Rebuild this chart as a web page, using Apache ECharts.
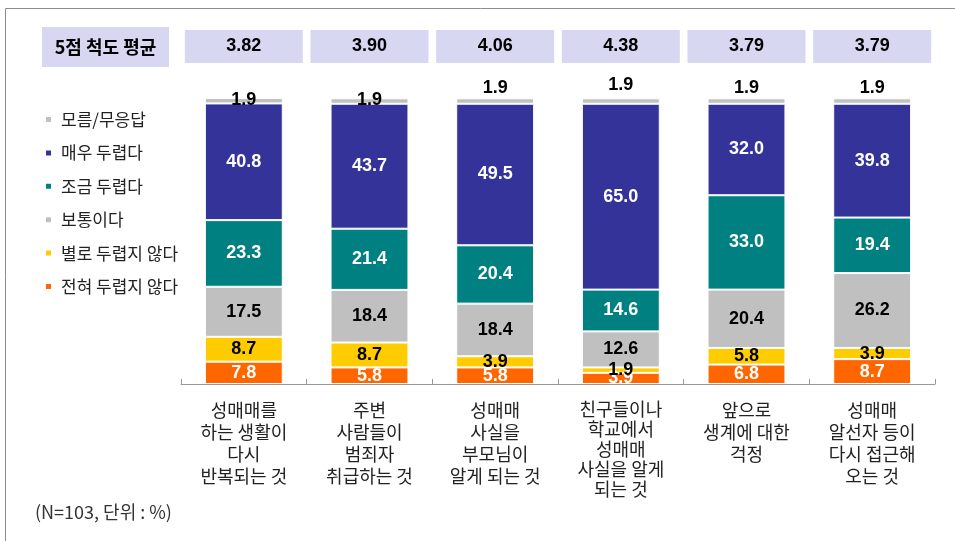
<!DOCTYPE html>
<html>
<head>
<meta charset="utf-8">
<script src="https://cdn.jsdelivr.net/npm/echarts@6/dist/echarts.min.js"></script>
<style>
  html, body { margin: 0; padding: 0; background: #fff; }
  #chart { width: 955px; height: 541px; }
</style>
</head>
<body>
<div id="chart"></div>
<script>
// Categories (x axis, multi-line)
const categories = [
  '성매매를\n하는 생활이\n다시\n반복되는 것',
  '주변\n사람들이\n범죄자\n취급하는 것',
  '성매매\n사실을\n부모님이\n알게 되는 것',
  '친구들이나\n학교에서\n성매매\n사실을 알게\n되는 것',
  '앞으로\n생계에 대한\n걱정',
  '성매매\n알선자 등이\n다시 접근해\n오는 것'
];

// 5-point scale means shown above each bar
const scaleMeans = ['3.82', '3.90', '4.06', '4.38', '3.79', '3.79'];

// Response shares (%), stacked bottom to top
const notAtAll   = [7.8, 5.8, 5.8, 3.9, 6.8, 8.7];      // 전혀 두렵지 않다
const notVery    = [8.7, 8.7, 3.9, 1.9, 5.8, 3.9];      // 별로 두렵지 않다
const neutral    = [17.5, 18.4, 18.4, 12.6, 20.4, 26.2]; // 보통이다
const somewhat   = [23.3, 21.4, 20.4, 14.6, 33.0, 19.4]; // 조금 두렵다
const very       = [40.8, 43.7, 49.5, 65.0, 32.0, 39.8]; // 매우 두렵다
const dontKnow   = [1.9, 1.9, 1.9, 1.9, 1.9, 1.9];      // 모름/무응답

const seriesNames = ['전혀 두렵지 않다', '별로 두렵지 않다', '보통이다', '조금 두렵다', '매우 두렵다', '모름/무응답'];
const seriesValues = [notAtAll, notVery, neutral, somewhat, very, dontKnow];
const seriesColors = ['#ff6600', '#ffcc00', '#c0c0c0', '#008080', '#333399', '#c0c0c0'];
const labelColors = ['#ffffff', '#000000', '#000000', '#ffffff', '#ffffff', '#000000'];

const numFont = "'Liberation Sans', Arial, sans-serif";
const krFont = "'Noto Sans CJK KR', 'Noto Sans', sans-serif";

const chart = echarts.init(document.getElementById('chart'), null, { renderer: 'canvas' });

const series = seriesValues.map((vals, si) => {
  const isTop = si === seriesValues.length - 1;
  return {
    name: seriesNames[si],
    type: 'bar',
    stack: 'total',
    barWidth: '62%',
    itemStyle: { color: seriesColors[si], borderColor: '#ffffff', borderWidth: 1 },
    label: {
      show: true,
      position: 'inside',
      color: labelColors[si],
      fontFamily: numFont,
      fontWeight: 'bold',
      fontSize: 18,
      formatter: p => p.value.toFixed(1)
    },
    data: vals.map((v, i) => {
      if (!isTop) return v;
      if (i < 2) return { value: v, label: { position: 'inside', offset: [0, -1] } };
      return { value: v, label: { position: 'top', distance: i === 3 ? 4 : 1 } };
    })
  };
});

chart.setOption({
  animation: false,
  backgroundColor: '#ffffff',
  grid: { left: 181, right: 20, top: 98, bottom: 157 },
  legend: {
    orient: 'vertical',
    left: 39,
    top: 105,
    icon: 'rect',
    itemWidth: 7,
    itemHeight: 7,
    itemGap: 14.4,
    data: ['모름/무응답', '매우 두렵다', '조금 두렵다', '보통이다', '별로 두렵지 않다', '전혀 두렵지 않다'],
    textStyle: { fontFamily: krFont, fontSize: 17, color: '#222', lineHeight: 19, padding: [0, 0, 0, 4] }
  },
  xAxis: [
    {
      type: 'category',
      data: categories.map((c, i) => i === 3 ? { value: c, textStyle: { lineHeight: 20 } } : c),
      axisLine: { lineStyle: { color: '#999', width: 1 } },
      axisTick: { show: true, inside: true, length: 5, lineStyle: { color: '#999' } },
      axisLabel: {
        interval: 0,
        margin: 15,
        fontFamily: krFont,
        fontSize: 18,
        lineHeight: 22,
        color: '#222'
      }
    },
    {
      type: 'category',
      position: 'top',
      data: scaleMeans,
      axisLine: { show: false },
      axisTick: { show: false },
      axisLabel: {
        interval: 0,
        margin: 35,
        formatter: v => '{b|' + v + '}',
        rich: {
          b: {
            backgroundColor: '#d7d7f2',
            width: 118,
            height: 33,
            lineHeight: 33,
            align: 'center',
            fontFamily: numFont,
            fontWeight: 'bold',
            fontSize: 18,
            color: '#000'
          }
        }
      }
    }
  ],
  yAxis: { type: 'value', min: 0, max: 100, show: false },
  series: series,
  graphic: [
    {
      type: 'rect',
      shape: { x: 5.5, y: 8.5, width: 1000, height: 600 },
      style: { fill: 'none', stroke: '#8c8c8c', lineWidth: 1 },
      silent: true
    },
    {
      type: 'rect',
      shape: { x: 42, y: 27, width: 127, height: 40 },
      style: { fill: '#d7d7f2' },
      silent: true
    },
    {
      type: 'text',
      x: 105.5,
      y: 47,
      style: {
        text: '5점 척도 평균',
        fontFamily: krFont,
        fontWeight: 'bold',
        fontSize: 18,
        fill: '#000',
        textAlign: 'center',
        textVerticalAlign: 'middle'
      },
      silent: true
    },
    {
      type: 'text',
      x: 35,
      y: 512,
      style: {
        text: '(N=103, 단위 : %)',
        fontFamily: krFont,
        fontSize: 18,
        fill: '#333',
        textVerticalAlign: 'middle'
      },
      silent: true
    }
  ]
});
</script>
</body>
</html>
